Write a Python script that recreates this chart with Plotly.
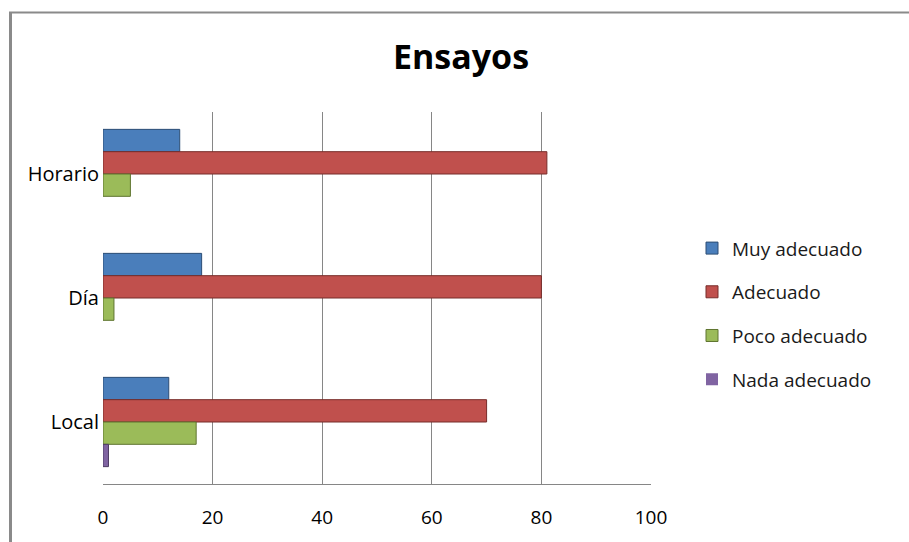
import plotly.graph_objects as go

categories = ["Horario", "Día", "Local"]
series_names = ["Muy adecuado", "Adecuado", "Poco adecuado", "Nada adecuado"]
muy_adecuado = [14, 18, 12]
adecuado = [81, 80, 70]
poco_adecuado = [5, 2, 17]
nada_adecuado = [0, 0, 1]
x_ticks = [0, 20, 40, 60, 80, 100]

values = [muy_adecuado, adecuado, poco_adecuado, nada_adecuado]
colors = ["#4A7EBB", "#C0504D", "#9BBB59", "#8064A2"]
outlines = ["#2C4D75", "#772C2A", "#5F7530", "#4D3B62"]

FONT = "Open Sans"

fig = go.Figure()
for name, vals, c, oc in zip(series_names, values, colors, outlines):
    fig.add_trace(go.Bar(
        y=categories, x=vals, orientation="h", name=name,
        legendgroup=name,
        marker=dict(color=c,
                    line=dict(color=oc, width=[1 if v else 0 for v in vals])),
    ))

fig.update_layout(
    width=909, height=542,
    margin=dict(l=103, r=258, t=112, b=49),
    paper_bgcolor="white", plot_bgcolor="white",
    barmode="group", bargap=0.28, bargroupgap=0,
    title=dict(text="<b>Ensayos</b>", x=461/909, xanchor="center",
               y=1 - 57/542, yanchor="middle",
               font=dict(family=FONT, size=34, color="black")),
    xaxis=dict(range=[0, 100], tickvals=x_ticks, showgrid=True,
               gridcolor="#868686", gridwidth=1, zeroline=False,
               showline=True, linecolor="#868686", linewidth=1,
               ticks="", ticklabelstandoff=16,
               tickfont=dict(family=FONT, size=19, color="black")),
    yaxis=dict(categoryorder="array", categoryarray=categories,
               autorange="reversed", showgrid=False, zeroline=False,
               showline=False, ticks="", ticklabelstandoff=3,
               tickfont=dict(family=FONT, size=20, color="black")),
    legend=dict(x=(692 - 103) / 548, xanchor="left", y=(486 - 313) / 378,
                yanchor="middle", tracegroupgap=16,
                font=dict(family=FONT, size=19, color="#1a1a1a"),
                bgcolor="rgba(0,0,0,0)"),
    shapes=[
        dict(type="line", xref="paper", yref="paper",
             x0=(10.5 - 103) / 548, x1=(10.5 - 103) / 548,
             y0=(486 - 7) / 378, y1=(486 - 560) / 378,
             line=dict(color="#8A8A8A", width=3)),
        dict(type="line", xref="paper", yref="paper",
             x0=(9 - 103) / 548, x1=(912 - 103) / 548,
             y0=(486 - 7) / 378, y1=(486 - 7) / 378,
             line=dict(color="#8A8A8A", width=2)),
    ],
    showlegend=True,
)

fig.write_html("out.html")
